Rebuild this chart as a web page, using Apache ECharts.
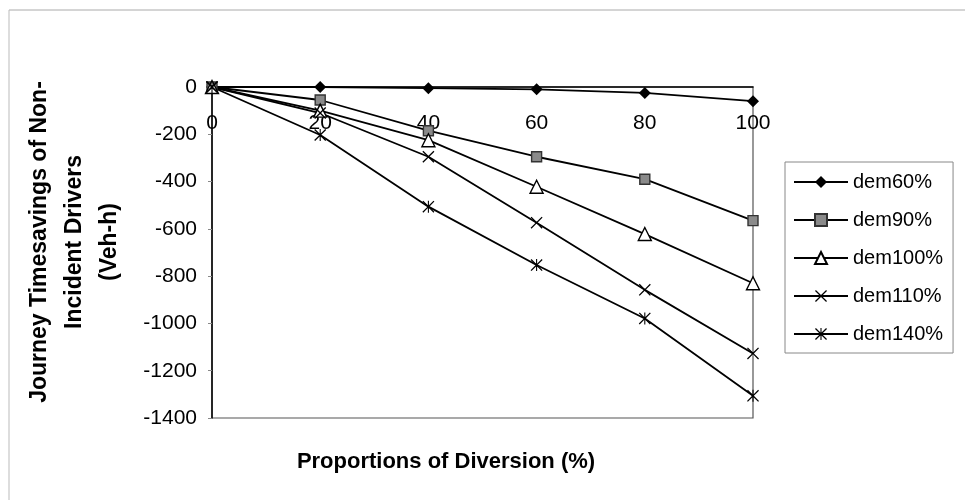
<!DOCTYPE html>
<html>
<head>
<meta charset="utf-8">
<script src="https://cdn.jsdelivr.net/npm/echarts@6/dist/echarts.min.js"></script>
<style>html,body{margin:0;padding:0;background:#fff}#c{width:965px;height:500px}</style>
</head>
<body>
<div id="c"></div>
<script>
var categories = ['0', '20', '40', '60', '80', '100'];
var dem60 = [0, 0, -5, -10, -25, -60];
var dem90 = [0, -55, -185, -295, -390, -565];
var dem100 = [0, -100, -225, -422, -622, -830];
var dem110 = [0, -110, -295, -574, -858, -1127];
var dem140 = [0, -203, -506, -753, -979, -1306];
var seriesNames = ['dem60%', 'dem90%', 'dem100%', 'dem110%', 'dem140%'];
var yTicks = { min: -1400, max: 0, step: 200 };

var FONT = '"Liberation Sans", Arial, sans-serif';
var xPath = 'path://M0,1.5L1.5,0L10,8.5L18.5,0L20,1.5L11.5,10L20,18.5L18.5,20L10,11.5L1.5,20L0,18.5L8.5,10Z';
var starPath = 'path://M0,1.5L1.5,0L10,8.5L18.5,0L20,1.5L11.5,10L20,18.5L18.5,20L10,11.5L1.5,20L0,18.5L8.5,10Z M9.1,0L10.9,0L10.9,20L9.1,20Z';

function mk(name, data, symbol, size, fill, border) {
  return {
    name: name, type: 'line', data: data,
    symbol: symbol, symbolSize: size,
    lineStyle: { color: '#000', width: 1.8 },
    itemStyle: { color: fill, borderColor: border, borderWidth: border === fill ? 0 : 1.4 },
    emphasis: { disabled: true },
    z: 3
  };
}

var chart = echarts.init(document.getElementById('c'), null, { renderer: 'canvas' });
chart.setOption({
  animation: false,
  backgroundColor: '#fff',
  textStyle: { fontFamily: FONT },
  grid: { left: 212, right: 212, top: 87, bottom: 82, show: true, borderColor: '#555', borderWidth: 1.2, containLabel: false },
  xAxis: {
    type: 'category', data: categories, boundaryGap: false, position: 'top',
    axisLine: { onZero: false, lineStyle: { color: '#000', width: 1.5 } },
    axisTick: { show: false },
    axisLabel: { inside: true, color: '#000', fontSize: 21, fontFamily: FONT, margin: 26, hideOverlap: false },
    splitLine: { show: false }
  },
  yAxis: {
    type: 'value', min: yTicks.min, max: yTicks.max, interval: yTicks.step,
    axisLine: { show: true, lineStyle: { color: '#000', width: 1.5 } },
    axisTick: { show: true, length: 4, lineStyle: { color: '#888' } },
    axisLabel: { color: '#000', fontSize: 21, fontFamily: FONT, margin: 15, formatter: function (v) { return String(v); } },
    splitLine: { show: false }
  },
  legend: {
    orient: 'vertical', left: 785, top: 162,
    data: seriesNames,
    itemWidth: 54, itemHeight: 15, itemGap: 18,
    padding: [10, 10, 9, 8],
    borderColor: '#888', borderWidth: 1,
    textStyle: { color: '#000', fontSize: 20, fontFamily: FONT, lineHeight: 20 }
  },
  series: [
    mk(seriesNames[0], dem60, 'diamond', 12, '#000', '#000'),
    mk(seriesNames[1], dem90, 'rect', 10, '#8a8a8a', '#333'),
    mk(seriesNames[2], dem100, 'triangle', 13, '#fff', '#000'),
    mk(seriesNames[3], dem110, xPath, 12, '#000', '#000'),
    mk(seriesNames[4], dem140, starPath, 12, '#000', '#000')
  ],
  graphic: [
    { type: 'line', shape: { x1: 9, y1: 10, x2: 965, y2: 10 }, style: { stroke: '#aaa', lineWidth: 1 } },
    { type: 'line', shape: { x1: 9, y1: 10, x2: 9, y2: 500 }, style: { stroke: '#bbb', lineWidth: 1 } },
    { type: 'text', x: 446, y: 462,
      style: { text: 'Proportions of Diversion (%)', font: 'bold 22px ' + FONT, fill: '#000', textAlign: 'center', textVerticalAlign: 'middle' } },
    { type: 'text', x: 75, y: 242, rotation: Math.PI / 2,
      style: { text: 'Journey Timesavings of Non-\nIncident Drivers\n(Veh-h)', font: 'bold 23px ' + FONT, fill: '#000', textAlign: 'center', textVerticalAlign: 'middle', lineHeight: 35 } }
  ]
});
</script>
</body>
</html>
